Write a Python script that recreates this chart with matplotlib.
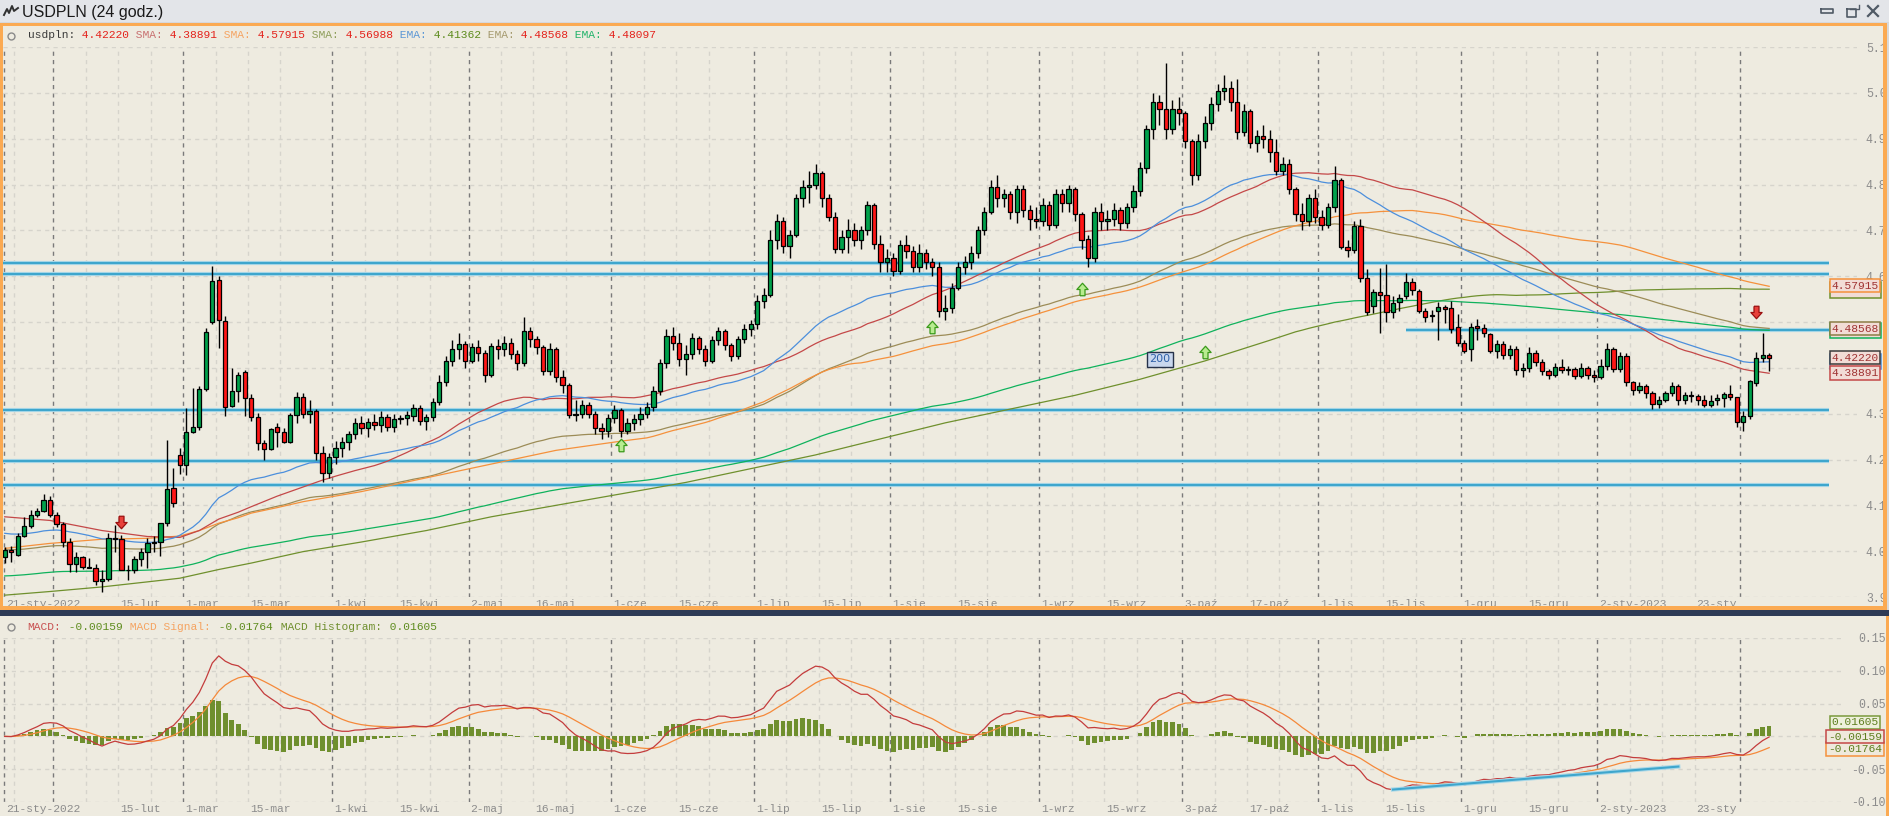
import matplotlib
matplotlib.use("Agg")
import matplotlib.pyplot as plt
import matplotlib.transforms as mtrans
from matplotlib.patches import Rectangle
from matplotlib.lines import Line2D
from matplotlib.path import Path
import numpy as np
import pandas as pd

W, H, DPI = 1890, 816, 100
MONO = "Liberation Mono"
plt.rcParams["font.family"] = [MONO, "DejaVu Sans"]

# ---------------- data ----------------
# daily candles, first one = 20-sty-2022
opens = [3.987, 4.003, 3.992, 4.033, 4.055, 4.078, 4.088, 4.112, 4.078, 4.060,
         4.019, 3.972, 3.987, 3.965, 3.964, 3.936, 3.940, 4.029, 4.027, 3.960,
         3.958, 3.983, 3.999, 4.018, 4.020, 4.061, 4.138, 4.210, 4.188, 4.261,
         4.271, 4.354, 4.501, 4.592, 4.503, 4.317, 4.350, 4.391, 4.334, 4.293,
         4.236, 4.223, 4.271, 4.261, 4.239, 4.297, 4.337, 4.300, 4.305, 4.215,
         4.170, 4.205, 4.225, 4.238, 4.255, 4.280, 4.268, 4.282, 4.275, 4.292,
         4.270, 4.288, 4.290, 4.296, 4.312, 4.285, 4.292, 4.325, 4.370, 4.415,
         4.440, 4.452, 4.415, 4.445, 4.432, 4.385, 4.448, 4.440, 4.455, 4.430,
         4.410, 4.480, 4.462, 4.445, 4.392, 4.440, 4.380, 4.362, 4.298, 4.300,
         4.318, 4.300, 4.268, 4.262, 4.290, 4.308, 4.262, 4.280, 4.288, 4.300,
         4.315, 4.350, 4.410, 4.470, 4.455, 4.420, 4.430, 4.465, 4.440, 4.415,
         4.460, 4.480, 4.450, 4.425, 4.462, 4.485, 4.495, 4.545, 4.560, 4.680,
         4.720, 4.665, 4.690, 4.770, 4.795, 4.800, 4.825, 4.770, 4.730, 4.660,
         4.685, 4.700, 4.680, 4.700, 4.755, 4.670, 4.630, 4.640, 4.612, 4.668,
         4.655, 4.620, 4.650, 4.630, 4.620, 4.525, 4.530, 4.575, 4.620, 4.630,
         4.650, 4.700, 4.740, 4.795, 4.770, 4.780, 4.740, 4.790, 4.745, 4.725,
         4.720, 4.755, 4.712, 4.780, 4.760, 4.790, 4.735, 4.680, 4.640, 4.740,
         4.720, 4.725, 4.745, 4.715, 4.750, 4.785, 4.835, 4.920, 4.980, 4.965,
         4.920, 4.965, 4.955, 4.895, 4.820, 4.895, 4.935, 4.975, 5.005, 5.010,
         4.980, 4.915, 4.960, 4.890, 4.905, 4.900, 4.870, 4.830, 4.845, 4.790,
         4.735, 4.720, 4.770, 4.730, 4.712, 4.750, 4.810, 4.664, 4.658, 4.710,
         4.597, 4.535, 4.565, 4.559, 4.521, 4.543, 4.556, 4.587, 4.567, 4.523,
         4.513, 4.525, 4.533, 4.530, 4.490, 4.455, 4.441, 4.492, 4.486, 4.474,
         4.436, 4.452, 4.428, 4.442, 4.395, 4.400, 4.432, 4.412, 4.392, 4.385,
         4.402, 4.395, 4.398, 4.382, 4.400, 4.385, 4.380, 4.405, 4.440, 4.398,
         4.425, 4.368, 4.352, 4.360, 4.345, 4.322, 4.330, 4.345, 4.360, 4.330,
         4.340, 4.338, 4.330, 4.319, 4.330, 4.335, 4.342, 4.336, 4.281, 4.295,
         4.367, 4.421, 4.428]
highs = [4.010, 4.012, 4.039, 4.075, 4.090, 4.095, 4.125, 4.120, 4.086, 4.064,
         4.028, 3.999, 3.990, 3.985, 3.973, 3.960, 4.039, 4.057, 4.035, 3.970,
         3.990, 4.008, 4.028, 4.034, 4.061, 4.243, 4.181, 4.225, 4.312, 4.356,
         4.361, 4.487, 4.623, 4.601, 4.513, 4.399, 4.390, 4.396, 4.343, 4.301,
         4.243, 4.268, 4.279, 4.268, 4.301, 4.348, 4.345, 4.330, 4.310, 4.230,
         4.215, 4.240, 4.250, 4.262, 4.290, 4.295, 4.290, 4.300, 4.305, 4.300,
         4.300, 4.298, 4.305, 4.322, 4.318, 4.300, 4.335, 4.385, 4.425, 4.460,
         4.475, 4.458, 4.455, 4.460, 4.440, 4.455, 4.462, 4.470, 4.465, 4.440,
         4.510, 4.490, 4.470, 4.450, 4.455, 4.445, 4.395, 4.368, 4.330, 4.330,
         4.325, 4.305, 4.280, 4.300, 4.320, 4.312, 4.290, 4.300, 4.315, 4.325,
         4.360, 4.420, 4.485, 4.490, 4.475, 4.450, 4.475, 4.470, 4.450, 4.470,
         4.490, 4.485, 4.455, 4.470, 4.495, 4.505, 4.560, 4.575, 4.700, 4.735,
         4.730, 4.700, 4.780, 4.810, 4.830, 4.845, 4.830, 4.780, 4.740, 4.700,
         4.725, 4.715, 4.710, 4.765, 4.760, 4.690, 4.660, 4.650, 4.680, 4.690,
         4.665, 4.670, 4.660, 4.640, 4.630, 4.560, 4.585, 4.630, 4.645, 4.665,
         4.710, 4.750, 4.810, 4.820, 4.790, 4.785, 4.800, 4.800, 4.755, 4.750,
         4.770, 4.765, 4.790, 4.790, 4.800, 4.795, 4.740, 4.690, 4.750, 4.760,
         4.745, 4.760, 4.750, 4.760, 4.800, 4.850, 4.930, 5.000, 4.995, 5.065,
         4.985, 4.990, 4.960, 4.900, 4.910, 4.950, 4.990, 5.020, 5.040, 5.025,
         5.030, 4.975, 4.965, 4.920, 4.930, 4.920, 4.900, 4.860, 4.855, 4.795,
         4.760, 4.780, 4.790, 4.745, 4.760, 4.840, 4.815, 4.680, 4.720, 4.725,
         4.615, 4.572, 4.618, 4.627, 4.556, 4.561, 4.607, 4.596, 4.572, 4.530,
         4.527, 4.543, 4.538, 4.545, 4.517, 4.461, 4.498, 4.506, 4.496, 4.477,
         4.461, 4.458, 4.450, 4.448, 4.410, 4.445, 4.440, 4.420, 4.398, 4.410,
         4.420, 4.405, 4.402, 4.410, 4.405, 4.395, 4.420, 4.455, 4.445, 4.435,
         4.432, 4.372, 4.370, 4.365, 4.350, 4.338, 4.350, 4.370, 4.365, 4.348,
         4.350, 4.342, 4.341, 4.341, 4.343, 4.348, 4.363, 4.337, 4.306, 4.374,
         4.435, 4.476, 4.432]
lows = [3.974, 3.977, 3.990, 4.031, 4.050, 4.075, 4.085, 4.075, 4.052, 4.010,
        3.955, 3.955, 3.962, 3.963, 3.926, 3.912, 3.935, 3.999, 3.958, 3.937,
        3.952, 3.968, 3.963, 3.999, 3.990, 4.055, 4.097, 4.169, 4.166, 4.258,
        4.265, 4.350, 4.496, 4.443, 4.294, 4.314, 4.326, 4.294, 4.283, 4.221,
        4.199, 4.221, 4.228, 4.236, 4.236, 4.279, 4.290, 4.280, 4.200, 4.150,
        4.160, 4.190, 4.205, 4.220, 4.245, 4.255, 4.250, 4.265, 4.260, 4.262,
        4.260, 4.278, 4.275, 4.285, 4.275, 4.265, 4.285, 4.320, 4.360, 4.405,
        4.420, 4.400, 4.410, 4.415, 4.370, 4.380, 4.420, 4.425, 4.420, 4.395,
        4.405, 4.445, 4.430, 4.385, 4.385, 4.370, 4.345, 4.290, 4.285, 4.290,
        4.290, 4.255, 4.245, 4.250, 4.280, 4.250, 4.255, 4.265, 4.275, 4.290,
        4.305, 4.340, 4.400, 4.440, 4.405, 4.385, 4.420, 4.430, 4.405, 4.410,
        4.450, 4.440, 4.415, 4.420, 4.455, 4.470, 4.485, 4.530, 4.555, 4.660,
        4.650, 4.640, 4.685, 4.750, 4.760, 4.790, 4.750, 4.720, 4.650, 4.650,
        4.650, 4.665, 4.660, 4.690, 4.660, 4.610, 4.610, 4.600, 4.605, 4.640,
        4.610, 4.610, 4.615, 4.600, 4.510, 4.505, 4.520, 4.570, 4.605, 4.615,
        4.640, 4.690, 4.735, 4.750, 4.750, 4.725, 4.715, 4.730, 4.700, 4.705,
        4.710, 4.700, 4.705, 4.740, 4.740, 4.720, 4.660, 4.620, 4.630, 4.700,
        4.700, 4.710, 4.700, 4.705, 4.740, 4.775, 4.825, 4.900, 4.930, 4.900,
        4.910, 4.930, 4.880, 4.800, 4.810, 4.880, 4.920, 4.960, 4.985, 4.960,
        4.900, 4.905, 4.880, 4.870, 4.880, 4.850, 4.820, 4.820, 4.780, 4.720,
        4.700, 4.710, 4.715, 4.700, 4.705, 4.740, 4.660, 4.642, 4.650, 4.587,
        4.516, 4.519, 4.477, 4.500, 4.508, 4.525, 4.550, 4.559, 4.519, 4.501,
        4.499, 4.461, 4.497, 4.476, 4.448, 4.433, 4.414, 4.461, 4.467, 4.433,
        4.421, 4.420, 4.420, 4.385, 4.380, 4.392, 4.405, 4.385, 4.375, 4.380,
        4.388, 4.385, 4.375, 4.378, 4.375, 4.370, 4.375, 4.395, 4.390, 4.390,
        4.360, 4.340, 4.345, 4.335, 4.310, 4.312, 4.325, 4.338, 4.320, 4.322,
        4.325, 4.318, 4.315, 4.315, 4.320, 4.314, 4.330, 4.272, 4.263, 4.288,
        4.361, 4.412, 4.394]
closes = [4.003, 3.999, 4.033, 4.055, 4.078, 4.088, 4.112, 4.078, 4.060, 4.019,
          3.972, 3.987, 3.965, 3.964, 3.936, 3.940, 4.029, 4.027, 3.960, 3.958,
          3.983, 3.999, 4.018, 4.020, 4.061, 4.135, 4.105, 4.187, 4.261, 4.271,
          4.354, 4.478, 4.590, 4.505, 4.314, 4.350, 4.384, 4.334, 4.293, 4.236,
          4.223, 4.266, 4.261, 4.239, 4.297, 4.337, 4.300, 4.305, 4.215, 4.170,
          4.205, 4.225, 4.238, 4.255, 4.280, 4.268, 4.282, 4.275, 4.292, 4.270,
          4.288, 4.290, 4.296, 4.312, 4.285, 4.292, 4.325, 4.370, 4.415, 4.440,
          4.452, 4.415, 4.445, 4.432, 4.385, 4.448, 4.440, 4.455, 4.430, 4.410,
          4.480, 4.462, 4.445, 4.392, 4.440, 4.380, 4.362, 4.298, 4.300, 4.318,
          4.300, 4.268, 4.262, 4.290, 4.308, 4.262, 4.280, 4.288, 4.300, 4.315,
          4.350, 4.410, 4.470, 4.455, 4.420, 4.430, 4.465, 4.440, 4.415, 4.460,
          4.480, 4.450, 4.425, 4.462, 4.485, 4.495, 4.545, 4.560, 4.680, 4.720,
          4.665, 4.690, 4.770, 4.795, 4.800, 4.825, 4.770, 4.730, 4.660, 4.685,
          4.700, 4.680, 4.700, 4.755, 4.670, 4.630, 4.640, 4.612, 4.668, 4.655,
          4.620, 4.650, 4.630, 4.620, 4.525, 4.530, 4.575, 4.620, 4.630, 4.650,
          4.700, 4.740, 4.795, 4.770, 4.780, 4.740, 4.790, 4.745, 4.725, 4.720,
          4.755, 4.712, 4.780, 4.760, 4.790, 4.735, 4.680, 4.640, 4.740, 4.720,
          4.725, 4.745, 4.715, 4.750, 4.785, 4.835, 4.920, 4.980, 4.965, 4.920,
          4.965, 4.955, 4.895, 4.820, 4.895, 4.935, 4.975, 5.005, 5.010, 4.980,
          4.915, 4.960, 4.890, 4.905, 4.900, 4.870, 4.830, 4.845, 4.790, 4.735,
          4.720, 4.770, 4.730, 4.712, 4.750, 4.810, 4.664, 4.658, 4.710, 4.597,
          4.522, 4.565, 4.560, 4.521, 4.541, 4.553, 4.587, 4.569, 4.523, 4.512,
          4.513, 4.533, 4.529, 4.484, 4.455, 4.436, 4.489, 4.486, 4.476, 4.436,
          4.452, 4.428, 4.442, 4.395, 4.400, 4.432, 4.412, 4.392, 4.385, 4.402,
          4.395, 4.398, 4.382, 4.400, 4.385, 4.380, 4.405, 4.440, 4.398, 4.425,
          4.368, 4.352, 4.360, 4.345, 4.322, 4.330, 4.345, 4.360, 4.330, 4.340,
          4.338, 4.330, 4.319, 4.328, 4.334, 4.342, 4.336, 4.281, 4.295, 4.372,
          4.421, 4.428, 4.4222]

# moving averages: start of the lines (before enough
# candles exist to compute them), the rest follows from the closes
sma50_head_idx = [0, 7, 15, 22, 27, 30, 33, 36, 38, 42, 46]
sma50_head = [4.075, 4.067, 4.045, 4.032, 4.030, 4.045, 4.070, 4.085, 4.097, 4.120, 4.140]
sma100_head_idx = [0, 7, 15, 22, 27, 30, 33, 36, 38, 42, 46, 55, 65, 75, 85, 95]
sma100_head = [4.006, 4.017, 4.026, 4.028, 4.033, 4.045, 4.061, 4.073, 4.083, 4.095,
               4.108, 4.130, 4.160, 4.190, 4.220, 4.240]
sma200_head_idx = [0, 7, 15, 22, 27, 33, 38, 46, 55, 65, 75, 85, 95, 105, 115, 125,
                   135, 145, 155, 165, 175, 185, 195]
sma200_head = [3.904, 3.912, 3.922, 3.933, 3.941, 3.960, 3.974, 3.999, 4.020, 4.045,
               4.075, 4.100, 4.125, 4.150, 4.180, 4.210, 4.245, 4.280, 4.310, 4.340,
               4.375, 4.415, 4.460]
ema_start = [4.039, 4.003, 3.946]          # EMA 50, 100, 200 at the first candle
ma_last = [4.38891, 4.57915, 4.56988, 4.41362, 4.48568, 4.48097]  # legend order

# drawn support / resistance levels
levels = [4.628, 4.605, 4.308, 4.197, 4.145]
level_short = 4.483
level_short_from = 216

# macd trend line (two points)
macd_trend_x = [214, 258]
macd_trend_y = [-0.081, -0.046]

# signal arrows
sell_idx = [18, 270]
sell_px = [4.064, 4.522]
buy_idx = [95, 143, 166, 185]
buy_px = [4.232, 4.490, 4.572, 4.435]

tick_dates = ["2022-01-21", "2022-02-15", "2022-03-01", "2022-03-15", "2022-04-01",
              "2022-04-15", "2022-05-02", "2022-05-16", "2022-06-01", "2022-06-15",
              "2022-07-01", "2022-07-15", "2022-08-01", "2022-08-15", "2022-09-01",
              "2022-09-15", "2022-10-03", "2022-10-17", "2022-11-01", "2022-11-15",
              "2022-12-01", "2022-12-15", "2023-01-02", "2023-01-23"]
tick_labels = ["21-sty-2022", "15-lut", "1-mar", "15-mar", "1-kwi", "15-kwi", "2-maj",
               "16-maj", "1-cze", "15-cze", "1-lip", "15-lip", "1-sie", "15-sie",
               "1-wrz", "15-wrz", "3-paź", "17-paź", "1-lis", "15-lis", "1-gru",
               "15-gru", "2-sty-2023", "23-sty"]

last_close = "4.42220"
macd_last = ["-0.00159", "-0.01764", "0.01605"]

# ---------------- indicators ----------------
cs = pd.Series(closes)
N = len(cs)


def ema_from(seed, span):
    s = cs.copy()
    s.iloc[0] = seed
    return s.ewm(span=span, adjust=False).mean()


def sma_line(head_idx, head, n):
    tail = cs.rolling(n).mean()
    return (list(head_idx) + list(range(n - 1, N)),
            list(head) + list(tail.iloc[n - 1:]))


ema50 = ema_from(ema_start[0], 50)
ema100 = ema_from(ema_start[1], 100)
ema200 = ema_from(ema_start[2], 200)
sma50 = sma_line(sma50_head_idx, sma50_head, 50)
sma100 = sma_line(sma100_head_idx, sma100_head, 100)
sma200 = sma_line(sma200_head_idx, sma200_head, 200)

macd = cs.ewm(span=12, adjust=False).mean() - cs.ewm(span=26, adjust=False).mean()
sig = macd.ewm(span=9, adjust=False).mean()
hist = macd - sig

# ---------------- helpers ----------------
days = pd.bdate_range("2022-01-20", "2023-02-07")
days = days[days != pd.Timestamp("2022-12-26")]
STEP = 6.487


def px2i(px):
    return (px - 4.7) / STEP


def day_pos(d):
    return days.searchsorted(pd.Timestamp(d)) - 0.5


fig = plt.figure(figsize=(W / DPI, H / DPI), dpi=DPI)
fig.patch.set_facecolor("#eeebe0")


def frect(x, y, w, h, color, z=-1):
    fig.add_artist(Rectangle((x / W, 1 - (y + h) / H), w / W, h / H,
                             transform=fig.transFigure, facecolor=color,
                             edgecolor="none", zorder=z))


def fline(xs, ys, color, lw=1.0, z=6):
    fig.add_artist(Line2D([x / W for x in xs], [1 - y / H for y in ys],
                          transform=fig.transFigure, color=color, lw=lw, zorder=z))


def ftext(x, y, s, color, size=8.1, family=MONO, **kw):
    fig.text(x / W, 1 - y / H, s, color=color, fontsize=size, family=family,
             va="center", ha="left", **kw)


# window chrome
frect(0, 0, W, 23, "#e3e5e9")
fline([0, W], [22.5, 22.5], "#a4a6aa")
fline([4, 7, 9, 12, 14, 18], [15, 9, 13, 6, 11, 8], "#303030", lw=1.4)
ftext(22, 12, "USDPLN (24 godz.)", "#1a1a1a", size=11.5, family="Liberation Sans")
fline([1821, 1833, 1833, 1821, 1821], [9, 9, 13, 13, 9], "#505a66", lw=1.2)
fline([1847, 1856, 1856, 1847, 1847], [9, 9, 17, 17, 9], "#505a66", lw=1.2)
fline([1850, 1859, 1859], [9, 9, 5], "#505a66", lw=1.0)
fline([1868, 1878], [6, 16], "#505a66", lw=1.6)
fline([1868, 1878], [16, 6], "#505a66", lw=1.6)

ORANGE = "#fbaa52"
frect(0, 23, 1887, 3, ORANGE, z=8)
frect(0, 23, 3, 587, ORANGE, z=8)
frect(1883, 23, 4, 587, ORANGE, z=8)
frect(0, 606, 1887, 4, ORANGE, z=8)
frect(1887, 23, 3, 587, "#d9d9d9", z=8)
frect(0, 610, W, 6, "#2e3b56", z=8)
frect(1886, 616, 4, 200, ORANGE, z=8)

GRID_LIGHT = "#d6d4cc"
GRID_DARK = "#7a7a7a"


def vgrid(a):
    a.axvline(day_pos(tick_dates[0]) - 0.6, color=GRID_DARK, lw=1.0, ls=(0, (3, 3)), zorder=1)
    for m in pd.date_range("2022-01-01", "2023-02-01", freq="MS"):
        for dom in (1, 8, 15, 22):
            p = day_pos(m + pd.Timedelta(days=dom - 1))
            if p < 1 or p > N - 1:
                continue
            col = GRID_DARK if dom == 1 else GRID_LIGHT
            a.axvline(p, color=col, lw=1.0, ls=(0, (3, 3)), zorder=1)


def xticks(a):
    pos = [day_pos(d) - 0.2 if i == 0 else day_pos(d) + 0.3
           for i, d in enumerate(tick_dates)]
    a.set_xticks(pos)
    a.set_xticklabels(tick_labels, ha="left", va="baseline")
    a.tick_params(axis="x", length=0, pad=7.0, labelsize=8.1, labelcolor="#8c8c8c")


def box(a, val, hh, ec, fc="#f2dcd6", z=8):
    tr = mtrans.blended_transform_factory(mtrans.IdentityTransform(), a.transData)
    a.add_patch(Rectangle((1830, val - hh / 2), 50.7, hh, transform=tr, fc=fc, ec=ec,
                          lw=1.1, zorder=z, clip_on=False))


def tag(a, val, txt, ec, fc="#f2dcd6", tc="#a03434", z=9):
    a.annotate(txt, xy=(1855, val), xycoords=("figure pixels", "data"),
               ha="center", va="center", fontsize=8.1, family=MONO, color=tc,
               annotation_clip=False, zorder=z,
               bbox=dict(boxstyle="square,pad=0.15", fc=fc, ec=ec, lw=1.1))


# ---------------- main price panel ----------------
ax = fig.add_axes([3 / W, 1 - 597 / H, 1854 / W, 550 / H])
ax.set_facecolor("none")
for s in ax.spines.values():
    s.set_visible(False)
ax.set_xlim(px2i(3), px2i(1857))
ax.set_ylim(3.9, 5.1)

yv = np.round(np.arange(3.9, 5.101, 0.1), 1)
ax.set_yticks(yv)
ax.set_yticklabels(["" if v in (4.4, 4.5) else f"{v:.1f}" for v in yv])
ax.yaxis.grid(True, linestyle=(0, (3, 3)), color=GRID_LIGHT, lw=1.0)
ax.tick_params(axis="y", left=False, right=False, labelleft=False, labelright=True,
               pad=2.9, labelsize=8.3, labelcolor="#8c8c8c")
vgrid(ax)
xticks(ax)

# support / resistance lines
xr = px2i(1829)
ax.hlines(levels, px2i(0), xr, color="#a9d8e8", lw=3.0, zorder=2)
ax.hlines(levels, px2i(0), xr, color="#3ea6cd", lw=1.5, zorder=2)
ax.hlines([level_short], level_short_from, xr, color="#a9d8e8", lw=3.0, zorder=2)
ax.hlines([level_short], level_short_from, xr, color="#3ea6cd", lw=1.5, zorder=2)

# moving averages
C_SMA50, C_SMA100, C_SMA200 = "#c44848", "#f5913c", "#6f902d"
C_EMA50, C_EMA100, C_EMA200 = "#4c8fdc", "#9c8c57", "#0fb25c"
ax.plot(*sma200, color=C_SMA200, lw=0.9, zorder=3)
ax.plot(cs.index, ema200, color=C_EMA200, lw=0.9, zorder=3)
ax.plot(cs.index, ema100, color=C_EMA100, lw=0.9, zorder=3)
ax.plot(*sma100, color=C_SMA100, lw=0.9, zorder=3)
ax.plot(*sma50, color=C_SMA50, lw=0.9, zorder=3)
ax.plot(cs.index, ema50, color=C_EMA50, lw=0.9, zorder=3)

# candles
o = np.array(opens)
hi = np.array(highs)
lo = np.array(lows)
c = np.array(closes)
idx = np.arange(N)
up = c >= o
ax.vlines(idx, lo, hi, color="black", lw=1.0, zorder=4)
body = np.maximum(np.abs(c - o), 0.0015)
ax.bar(idx, body, bottom=np.minimum(o, c), width=0.66,
       color=np.where(up, "#00a14b", "#ff1616"), edgecolor="black", linewidth=0.9,
       zorder=5)

# arrows
down_arrow = Path([(-0.2, 0.5), (0.2, 0.5), (0.2, 0.0), (0.45, 0.0), (0.0, -0.5),
                   (-0.45, 0.0), (-0.2, 0.0), (-0.2, 0.5)])
up_arrow = Path([(-0.2, -0.5), (0.2, -0.5), (0.2, 0.0), (0.45, 0.0), (0.0, 0.5),
                 (-0.45, 0.0), (-0.2, 0.0), (-0.2, -0.5)])
ax.plot(sell_idx, sell_px, ls="none", marker=down_arrow, ms=9, mfc="#e8403a",
        mec="#9a1010", mew=0.9, zorder=6)
ax.plot(buy_idx, buy_px, ls="none", marker=up_arrow, ms=9, mfc="#b8ec90",
        mec="#3a9a1a", mew=0.9, zorder=6)

# "200" label
ax.text(px2i(1159.7), 4.4186, "200", ha="center", va="center", fontsize=8,
        color="#2f60a8", family="DejaVu Sans", zorder=7,
        bbox=dict(boxstyle="square,pad=0.22", fc="#c9d7ee", ec="#26324a", lw=1.0))

# price tags on the right (hidden ones only show their edges)
PH = 15.3 / 458
box(ax, ma_last[3], PH, C_EMA50)
box(ax, ma_last[5], PH, C_EMA200)
box(ax, ma_last[2], PH, C_SMA200)
tag(ax, ma_last[1], f"{ma_last[1]:.5f}", C_SMA100, z=10)
tag(ax, ma_last[4], f"{ma_last[4]:.5f}", "#8c7d46", z=10)
tag(ax, closes[-1], last_close, "#3c3c3c", z=11)
tag(ax, ma_last[0], f"{ma_last[0]:.5f}", C_SMA50, z=11)

# legend line
cw = 6.76
RED = "#e4231c"
pieces = [("usdpln:", "#3a3a3a"), (" " + last_close, RED),
          (" SMA:", "#c87070"), (f" {ma_last[0]:.5f}", RED),
          (" SMA:", "#f5a462"), (f" {ma_last[1]:.5f}", RED),
          (" SMA:", "#8e9e5a"), (f" {ma_last[2]:.5f}", RED),
          (" EMA:", "#5b97d5"), (f" {ma_last[3]:.5f}", "#5e8c1e"),
          (" EMA:", "#a59a6e"), (f" {ma_last[4]:.5f}", RED),
          (" EMA:", "#22b36a"), (f" {ma_last[5]:.5f}", RED)]
n = 0
for s, col in pieces:
    ftext(27.7 + n * cw, 35, s, col)
    n += len(s)

# ---------------- MACD panel ----------------
ax2 = fig.add_axes([3 / W, 1 - 802 / H, 1842 / W, 164 / H])
ax2.set_facecolor("none")
for s in ax2.spines.values():
    s.set_visible(False)
ax2.set_xlim(px2i(3), px2i(1845))
ax2.set_ylim(-0.10, 0.15)
yt = [-0.10, -0.05, 0.0, 0.05, 0.10, 0.15]
ax2.set_yticks(yt)
ax2.set_yticklabels(["" if v == 0 else f"{v:.2f}" for v in yt], ha="right")
ax2.yaxis.grid(True, linestyle=(0, (3, 3)), color=GRID_LIGHT, lw=1.0)
ax2.tick_params(axis="y", left=False, right=False, labelleft=False, labelright=True,
                pad=25.5, labelsize=8.3, labelcolor="#8c8c8c")
vgrid(ax2)
xticks(ax2)

ax2.bar(idx, hist, width=0.72, color="#6f8f2e", zorder=3)
ax2.plot(idx, sig, color="#f5893a", lw=0.9, zorder=4)
ax2.plot(idx, macd, color="#c43c3c", lw=0.9, zorder=5)
ax2.plot(macd_trend_x, macd_trend_y, color="#a9d8e8", lw=3.0, zorder=6)
ax2.plot(macd_trend_x, macd_trend_y, color="#3ea6cd", lw=1.5, zorder=6)

tag(ax2, 0.0214, macd_last[2], "#7a9a3c", fc="#eef0dc", tc="#5e7e1e", z=9)
tag(ax2, -0.0003, macd_last[0], "#c44848", fc="#efe9dc", tc="#5e7e1e", z=10)
tag(ax2, -0.0190, macd_last[1], "#f5913c", fc="#efe9dc", tc="#5e7e1e", z=9)

pieces = [("MACD:", "#c85050"), (" " + macd_last[0], "#5e8c1e"),
          (" MACD Signal:", "#f5a462"), (" " + macd_last[1], "#5e8c1e"),
          (" MACD Histogram:", "#6f8f2e"), (" " + macd_last[2], "#5e8c1e")]
n = 0
for s, col in pieces:
    ftext(27.7 + n * 6.83, 627, s, col)
    n += len(s)

# small move icons next to the legends
for yy in (36, 627):
    fig.add_artist(Line2D([11 / W], [1 - yy / H], transform=fig.transFigure, marker="o",
                          ms=5, mfc="none", mec="#8a8a8a", mew=1.0, zorder=6))

fig.savefig("out.png", dpi=DPI, facecolor=fig.get_facecolor())
